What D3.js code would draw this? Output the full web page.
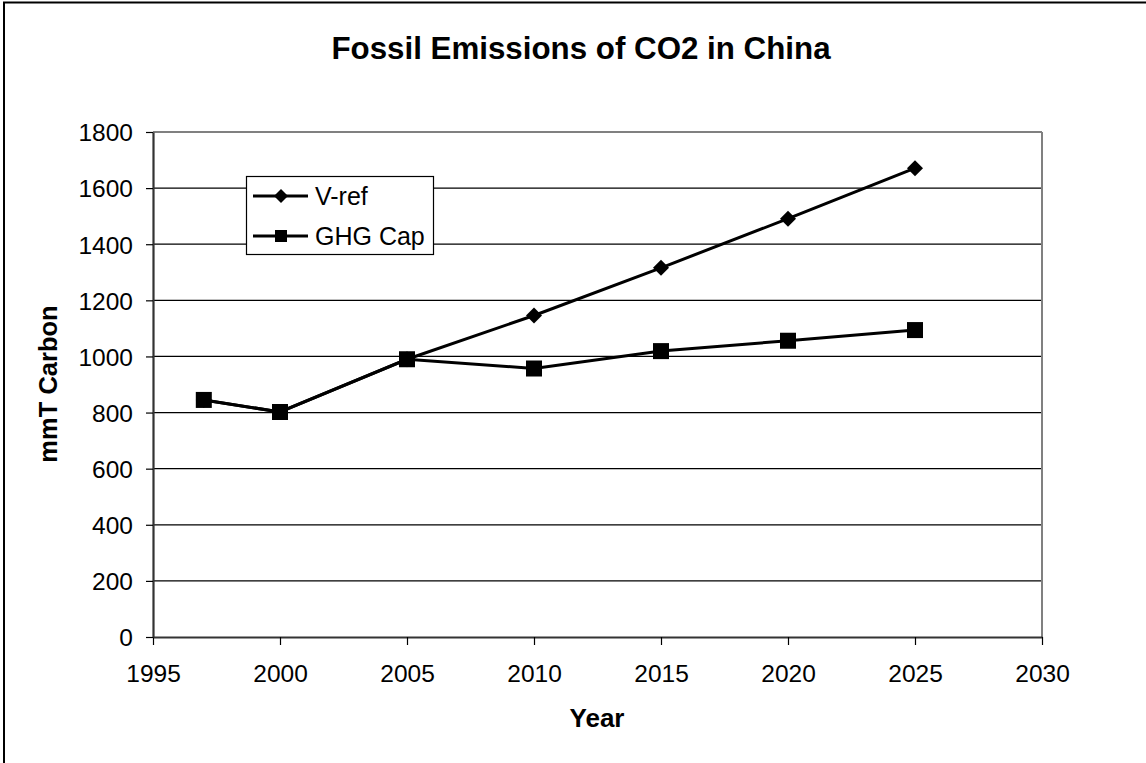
<!DOCTYPE html>
<html>
<head>
<meta charset="utf-8">
<script src="https://cdn.jsdelivr.net/npm/d3@7"></script>
<style>
  html, body { margin: 0; padding: 0; background: #fff; }
  svg { display: block; font-family: "Liberation Sans", Arial, sans-serif; }
</style>
</head>
<body>
<svg id="chart" width="1146" height="763"></svg>
<script>
// Fossil emissions of CO2 in China, mmT Carbon
const years = [1997, 2000, 2005, 2010, 2015, 2020, 2025];
const vRef = [845, 802, 990, 1146, 1316, 1491, 1671];
const ghgCap = [845, 802, 990, 957, 1019, 1056, 1094];
const xTicks = [1995, 2000, 2005, 2010, 2015, 2020, 2025, 2030];
const yTicks = [0, 200, 400, 600, 800, 1000, 1200, 1400, 1600, 1800];
const seriesNames = ["V-ref", "GHG Cap"];

const svg = d3.select("#chart");
const W = 1146, H = 763;
const plot = { left: 153, right: 1042, top: 132, bottom: 637 };

// outer frame (only left and top edges fall inside the view)
svg.append("rect").attr("x", 4).attr("y", 2.5).attr("width", W + 10).attr("height", H + 10)
  .attr("fill", "#fff").attr("stroke", "#000").attr("stroke-width", 2);

const x = d3.scaleLinear().domain([1995, 2030]).range([plot.left, plot.right]);
const y = d3.scaleLinear().domain([0, 1800]).range([plot.bottom, plot.top]);

// horizontal gridlines
svg.append("g").selectAll("line").data(yTicks.filter(v => v > 0 && v < 1800)).join("line")
  .attr("x1", plot.left).attr("x2", plot.right)
  .attr("y1", d => y(d)).attr("y2", d => y(d))
  .attr("stroke", "#000").attr("stroke-width", 1.2);

// plot area border: top and right in grey
svg.append("line").attr("x1", plot.left).attr("x2", plot.right).attr("y1", plot.top).attr("y2", plot.top)
  .attr("stroke", "#808080").attr("stroke-width", 2);
svg.append("line").attr("x1", plot.right).attr("x2", plot.right).attr("y1", plot.top).attr("y2", plot.bottom)
  .attr("stroke", "#808080").attr("stroke-width", 2);

// axes
const xAxis = svg.append("g").attr("transform", `translate(0,${plot.bottom})`)
  .call(d3.axisBottom(x).tickValues(xTicks).tickFormat(d3.format("d")).tickSizeInner(8).tickSizeOuter(0).tickPadding(20));
const yAxis = svg.append("g").attr("transform", `translate(${plot.left},0)`)
  .call(d3.axisLeft(y).tickValues(yTicks).tickFormat(d3.format("d")).tickSizeInner(7).tickSizeOuter(0).tickPadding(13));

[xAxis, yAxis].forEach(g => {
  g.select(".domain").attr("stroke", "#333").attr("stroke-width", 2.2);
  g.selectAll(".tick line").attr("stroke", "#000").attr("stroke-width", 1.2);
  g.selectAll("text").attr("font-size", 24.5).attr("fill", "#000")
    .attr("font-family", "'Liberation Sans', Arial, sans-serif");
});
yAxis.selectAll("text").attr("dy", "0.36em");

// series lines
const line = d3.line().x((d, i) => x(years[i])).y(d => y(d));
const series = [vRef, ghgCap];
svg.append("g").selectAll("path").data(series).join("path")
  .attr("d", d => line(d)).attr("fill", "none").attr("stroke", "#000").attr("stroke-width", 3);

// markers
const diamond = s => `M0,${-s}L${s},0L0,${s}L${-s},0Z`;
svg.append("g").selectAll("path").data(vRef).join("path")
  .attr("transform", (d, i) => `translate(${x(years[i])},${y(d)})`)
  .attr("d", diamond(8)).attr("fill", "#000");
svg.append("g").selectAll("rect").data(ghgCap).join("rect")
  .attr("x", (d, i) => x(years[i]) - 8).attr("y", d => y(d) - 8)
  .attr("width", 16).attr("height", 16).attr("fill", "#000");

// legend
const lg = svg.append("g").attr("transform", "translate(246,176)");
lg.append("rect").attr("x", 0.5).attr("y", 0.5).attr("width", 187).attr("height", 78)
  .attr("fill", "#fff").attr("stroke", "#000").attr("stroke-width", 1.2);
seriesNames.forEach((name, i) => {
  const cy = 20 + i * 40;
  lg.append("line").attr("x1", 7).attr("x2", 62).attr("y1", cy).attr("y2", cy)
    .attr("stroke", "#000").attr("stroke-width", 3);
  if (i === 0) {
    lg.append("path").attr("transform", `translate(35,${cy})`).attr("d", diamond(7)).attr("fill", "#000");
  } else {
    lg.append("rect").attr("x", 29).attr("y", cy - 6).attr("width", 12).attr("height", 12).attr("fill", "#000");
  }
  lg.append("text").attr("x", 69).attr("y", cy).attr("dy", "0.36em")
    .attr("font-size", 25).text(name);
});

// titles
svg.append("text").attr("x", 581).attr("y", 59).attr("text-anchor", "middle")
  .attr("font-size", 31.3).attr("font-weight", "bold").text("Fossil Emissions of CO2 in China");
svg.append("text").attr("x", 597).attr("y", 727).attr("text-anchor", "middle")
  .attr("font-size", 26).attr("font-weight", "bold").text("Year");
svg.append("text").attr("transform", "translate(57,384) rotate(-90)").attr("text-anchor", "middle")
  .attr("font-size", 25.5).attr("font-weight", "bold").text("mmT Carbon");
</script>
</body>
</html>
